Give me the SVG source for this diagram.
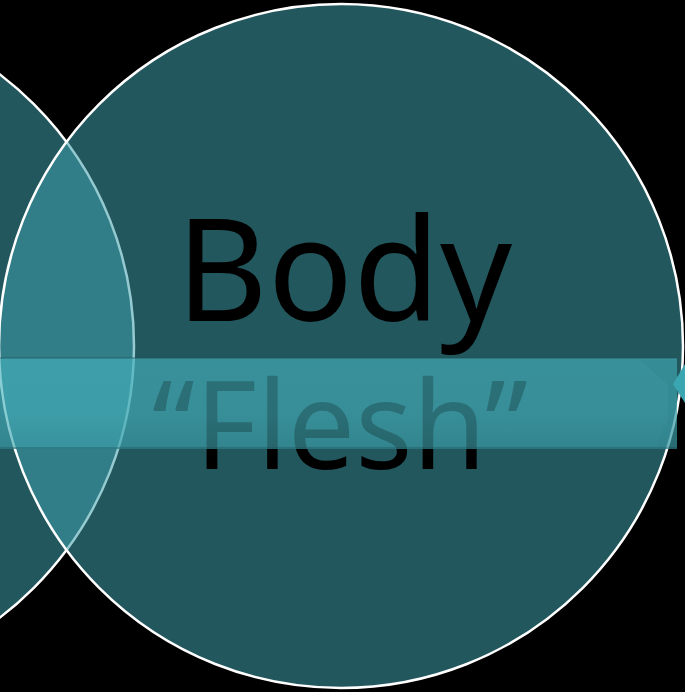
<svg xmlns="http://www.w3.org/2000/svg" width="685" height="692" viewBox="0 0 685 692">
<defs>
<style>
.circ{fill:rgb(62,158,171);fill-opacity:0.55;stroke:#fff;stroke-width:2.5}
.lbl{font-family:"Noto Sans","Open Sans",sans-serif;fill:#000;text-anchor:middle}
</style>
<linearGradient id="bandg" x1="0" y1="0" x2="0" y2="1">
<stop offset="0" stop-color="rgb(70,178,190)"/>
<stop offset="0.6" stop-color="rgb(68,175,186)"/>
<stop offset="1" stop-color="rgb(60,160,170)"/>
</linearGradient>
</defs>
<rect width="685" height="692" fill="#000"/>
<g id="node-left">
<circle class="circ" cx="-208" cy="346" r="342"/>
</g>
<g id="node-body">
<circle class="circ" cx="341" cy="346" r="342"/>
<text class="lbl" x="344" y="321" font-size="143" textLength="336" lengthAdjust="spacingAndGlyphs">Body</text>
<text class="lbl" x="340" y="469" font-size="122" textLength="376" lengthAdjust="spacingAndGlyphs">“Flesh”</text>
</g>
<g id="band">
<rect x="-5" y="358" width="682" height="91" fill="url(#bandg)" fill-opacity="0.63"/>
<rect x="-5" y="357" width="682" height="2" fill="#1c4f55" fill-opacity="0.35"/>
<rect x="-5" y="447" width="682" height="2" fill="#1c4f55" fill-opacity="0.35"/>
<polygon points="640,360 677,360 677,447 655,447 668,420 668,385" fill="#2a7f88" fill-opacity="0.25"/>
</g>
<g id="connectors">
<polygon points="685,364 673,384 685,403" fill="#3aa6b2"/>
</g>
</svg>
